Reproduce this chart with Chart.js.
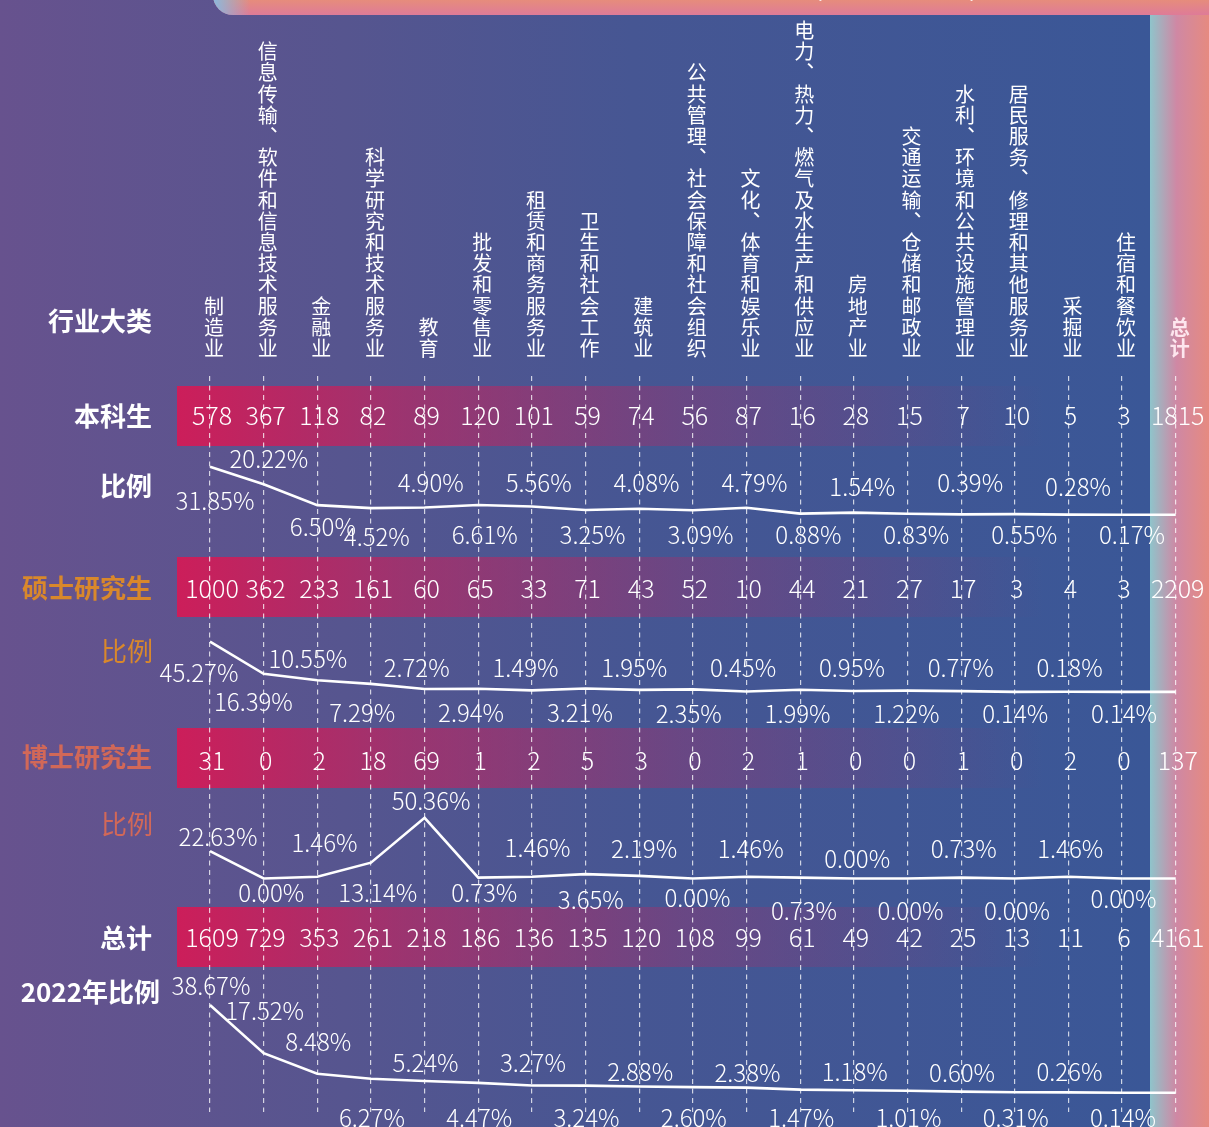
<!DOCTYPE html>
<html lang="zh-CN">
<head>
<meta charset="utf-8">
<title>行业大类分布</title>
<script src="https://cdn.jsdelivr.net/npm/chart.js@4.4.1/dist/chart.umd.min.js"></script>
<style>
  html, body { margin: 0; padding: 0; background: #4b5593; overflow: hidden; }
  canvas { display: block; }
</style>
</head>
<body>
<canvas id="chart" width="1209" height="1127"></canvas>
<script>
// ---- data ----
const industries = [
  '制造业', '信息传输、软件和信息技术服务业', '金融业', '科学研究和技术服务业', '教育',
  '批发和零售业', '租赁和商务服务业', '卫生和社会工作', '建筑业', '公共管理、社会保障和社会组织',
  '文化、体育和娱乐业', '电力、热力、燃气及水生产和供应业', '房地产业', '交通运输、仓储和邮政业',
  '水利、环境和公共设施管理业', '居民服务、修理和其他服务业', '采掘业', '住宿和餐饮业', '总计'
];

// counts (last value = 总计)
const bachelorCounts = [578, 367, 118, 82, 89, 120, 101, 59, 74, 56, 87, 16, 28, 15, 7, 10, 5, 3, 1815];
const masterCounts   = [1000, 362, 233, 161, 60, 65, 33, 71, 43, 52, 10, 44, 21, 27, 17, 3, 4, 3, 2209];
const doctorCounts   = [31, 0, 2, 18, 69, 1, 2, 5, 3, 0, 2, 1, 0, 0, 1, 0, 2, 0, 137];
const totalCounts    = [1609, 729, 353, 261, 218, 186, 136, 135, 120, 108, 99, 61, 49, 42, 25, 13, 11, 6, 4161];

// shares in %
const bachelorShare = [31.85, 20.22, 6.50, 4.52, 4.90, 6.61, 5.56, 3.25, 4.08, 3.09, 4.79, 0.88, 1.54, 0.83, 0.39, 0.55, 0.28, 0.17];
const masterShare   = [45.27, 16.39, 10.55, 7.29, 2.72, 2.94, 1.49, 3.21, 1.95, 2.35, 0.45, 1.99, 0.95, 1.22, 0.77, 0.14, 0.18, 0.14];
const doctorShare   = [22.63, 0.00, 1.46, 13.14, 50.36, 0.73, 1.46, 3.65, 2.19, 0.00, 1.46, 0.73, 0.00, 0.00, 0.73, 0.00, 1.46, 0.00];
const share2022     = [38.67, 17.52, 8.48, 6.27, 5.24, 4.47, 3.27, 3.24, 2.88, 2.60, 2.38, 1.47, 1.18, 1.01, 0.60, 0.31, 0.26, 0.14];

// ---- layout ----
const W = 1209, H = 1127;
const FONT = '"Noto Sans CJK SC", "Noto Sans", sans-serif';
const AREA_TOP = 376, AREA_BOTTOM = 1112;   // dashed guides run between these
const STRIP_X = 1150;
const ORANGE = '#d9882b', CORAL = '#d26858';

// where each share label sits (text centre y), per row
const bachelorLabelY = [501, 459, 527, 537, 483, 535, 483, 535, 483, 535, 483, 535, 487, 535, 483, 535, 487, 535];
const masterLabelY   = [673, 702, 659, 713, 668, 713, 668, 713, 668, 714, 668, 714, 668, 714, 668, 714, 668, 714];
const doctorLabelY   = [837, 893, 843, 893, 801, 893, 848, 900, 849, 898, 849, 911, 859, 911, 849, 911, 849, 899];
const labelY2022     = [986, 1011, 1042, 1118, 1063, 1118, 1063, 1118, 1072, 1118, 1073, 1118, 1072, 1118, 1073, 1118, 1072, 1118];

const shareRows = [
  { id: 'yBachelor', share: bachelorShare, zeroPx: 515, pxPerPct: 1.516, labelY: bachelorLabelY, dx: [5, 10] },
  { id: 'yMaster',   share: masterShare,   zeroPx: 692, pxPerPct: 1.111, labelY: masterLabelY,   dx: [-11, 2] },
  { id: 'yDoctor',   share: doctorShare,   zeroPx: 878.5, pxPerPct: 1.206, labelY: doctorLabelY, dx: [8, 1.5] },
  { id: 'y2022',     share: share2022,     zeroPx: 1093, pxPerPct: 2.276, labelY: labelY2022,    dx: [1, 1] }
];

const countRows = [
  { counts: bachelorCounts, bandTop: 386, textY: 416 },
  { counts: masterCounts,   bandTop: 557, textY: 589 },
  { counts: doctorCounts,   bandTop: 728, textY: 761 },
  { counts: totalCounts,    bandTop: 907, textY: 938 }
];

const rowTitles = [
  { text: '行业大类',   y: 321, color: '#ffffff', weight: 'bold', right: 152 },
  { text: '本科生',     y: 416, color: '#ffffff', weight: 'bold', right: 152 },
  { text: '比例',       y: 486, color: '#ffffff', weight: 'bold', right: 152 },
  { text: '硕士研究生', y: 588, color: ORANGE,    weight: 'bold', right: 152 },
  { text: '比例',       y: 651, color: ORANGE,    weight: 'normal', right: 153 },
  { text: '博士研究生', y: 757, color: CORAL,     weight: 'bold', right: 152 },
  { text: '比例',       y: 824, color: CORAL,     weight: 'normal', right: 153 },
  { text: '总计',       y: 938, color: '#ffffff', weight: 'bold', right: 152 },
  { text: '2022年比例', y: 992, color: '#ffffff', weight: 'bold', right: 160 }
];

// linear axis whose 0 lands on zeroPx, pxPerPct pixels per percent
function shareAxis(zeroPx, pxPerPct) {
  const min = -(AREA_BOTTOM - zeroPx) / pxPerPct;
  return { display: false, position: 'left', min, max: min + (AREA_BOTTOM - AREA_TOP) / pxPerPct };
}

function verticalChars(s) {
  return Array.from(s).map(ch => ch === '、' ? '\uFE11' : ch);
}

// draw text centred on (x, cy)
function drawText(ctx, text, x, cy, size, weight, color, align) {
  ctx.font = `${weight} ${size}px ${FONT}`;
  ctx.fillStyle = color;
  ctx.textAlign = align || 'center';
  ctx.textBaseline = 'alphabetic';
  ctx.fillText(text, x, cy + size * 0.37);
}

const decor = {
  id: 'decor',
  beforeDraw(chart) {
    const ctx = chart.ctx;
    ctx.save();
    // background
    let g = ctx.createLinearGradient(0, 0, STRIP_X, 0);
    g.addColorStop(0, '#67528e');
    g.addColorStop(0.3, '#56558f');
    g.addColorStop(0.55, '#465693');
    g.addColorStop(1, '#3a5797');
    ctx.fillStyle = g;
    ctx.fillRect(0, 0, W, H);

    // right strip
    g = ctx.createLinearGradient(STRIP_X, 0, W, 0);
    g.addColorStop(0, '#8fc4cb');
    g.addColorStop(0.45, '#cf88a4');
    g.addColorStop(1, '#e68a80');
    ctx.fillStyle = g;
    ctx.fillRect(STRIP_X, 15, W - STRIP_X, H - 15);

    // top banner (cut off by the frame)
    ctx.beginPath();
    ctx.roundRect(213, -40, W - 213 + 20, 55, [0, 0, 0, 20]);
    g = ctx.createLinearGradient(0, 0, 0, 15);
    g.addColorStop(0, '#e68c7c');
    g.addColorStop(1, '#de7b98');
    ctx.fillStyle = g;
    ctx.fill();
    ctx.save();
    ctx.clip();
    g = ctx.createLinearGradient(213, 0, 250, 0);
    g.addColorStop(0, 'rgba(138,185,222,1)');
    g.addColorStop(1, 'rgba(138,185,222,0)');
    ctx.fillStyle = g;
    ctx.fillRect(213, -40, 40, 55);
    ctx.fillStyle = '#ffffff';
    ctx.font = `28px ${FONT}`;
    ctx.textAlign = 'center';
    ctx.textBaseline = 'alphabetic';
    ctx.fillText('（', 809, -1);
    ctx.fillText('）', 983, -1);
    ctx.restore();

    // count bands
    countRows.forEach(r => {
      const bg = ctx.createLinearGradient(177, 0, 1045, 0);
      bg.addColorStop(0, 'rgba(204,30,90,1)');
      bg.addColorStop(0.26, 'rgba(204,30,90,0.6)');
      bg.addColorStop(0.58, 'rgba(204,30,90,0.27)');
      bg.addColorStop(1, 'rgba(204,30,90,0)');
      ctx.fillStyle = bg;
      ctx.fillRect(177, r.bandTop, STRIP_X - 177, 60);
    });

    // row titles
    rowTitles.forEach(t => drawText(ctx, t.text, t.right, t.y, 26, t.weight, t.color, 'right'));
    ctx.restore();
  },
  afterDatasetsDraw(chart) {
    const ctx = chart.ctx;
    const xs = chart.scales.x;
    const lastCol = xs.getPixelForValue(industries.length - 1);
    ctx.save();
    // lines run on flat into the 总计 column
    chart.data.datasets.forEach((ds, di) => {
      const pts = chart.getDatasetMeta(di).data;
      const p = pts[pts.length - 1];
      ctx.beginPath();
      ctx.moveTo(p.x, p.y);
      ctx.lineTo(lastCol, p.y);
      ctx.strokeStyle = ds.borderColor;
      ctx.lineWidth = ds.borderWidth;
      ctx.stroke();
    });
    // counts
    countRows.forEach(r => {
      r.counts.forEach((v, i) => {
        drawText(ctx, String(v), xs.getPixelForValue(i) + 2, r.textY, 25, '300', '#ffffff');
      });
    });
    // share labels
    shareRows.forEach(r => {
      const n = r.share.length;
      r.share.forEach((v, i) => {
        const dx = r.dx[0] + (r.dx[1] - r.dx[0]) * i / (n - 1);
        drawText(ctx, v.toFixed(2) + '%', xs.getPixelForValue(i) + dx, r.labelY[i], 24, '300', '#ffffff');
      });
    });
    ctx.restore();
  }
};

const scales = {
  x: {
    type: 'category',
    position: 'top',
    offset: true,
    grid: { offset: false, drawTicks: false, color: 'rgba(255,255,255,0.75)', lineWidth: 1.2 },
    border: { display: false, dash: [5, 4.5] },
    ticks: {
      autoSkip: false,
      maxRotation: 0,
      minRotation: 0,
      padding: 17,
      labelOffset: 4,
      callback: (v, i) => verticalChars(industries[i]),
      color: c => c.index === industries.length - 1 ? '#fde6ee' : '#ffffff',
      font: c => ({ family: FONT, size: 20, lineHeight: 1.06, weight: c.index === industries.length - 1 ? 'bold' : 'normal' })
    }
  }
};
shareRows.forEach(r => { scales[r.id] = shareAxis(r.zeroPx, r.pxPerPct); });

const colStep = 53.65, col0 = 210;
const padLeft = col0 - colStep / 2;
const padRight = W - (padLeft + colStep * industries.length);

const chart = new Chart(document.getElementById('chart'), {
  type: 'line',
  data: {
    labels: industries,
    datasets: shareRows.map(r => ({
      label: r.id,
      data: r.share,
      yAxisID: r.id,
      borderColor: '#ffffff',
      borderWidth: 2.6,
      pointRadius: 0,
      tension: 0,
      fill: false,
      clip: false
    }))
  },
  options: {
    responsive: false,
    devicePixelRatio: 1,
    animation: false,
    events: [],
    layout: { padding: { left: padLeft, right: padRight, top: 20, bottom: H - AREA_BOTTOM } },
    plugins: { legend: { display: false }, tooltip: { enabled: false } },
    scales
  },
  plugins: [decor]
});

// nudge so the plotting area starts exactly at AREA_TOP
const shift = chart.chartArea.top - AREA_TOP;
if (Math.abs(shift) > 0.25) {
  chart.options.layout.padding = { left: padLeft, right: padRight, top: 20 - shift, bottom: H - AREA_BOTTOM };
  chart.update();
}
</script>
</body>
</html>
